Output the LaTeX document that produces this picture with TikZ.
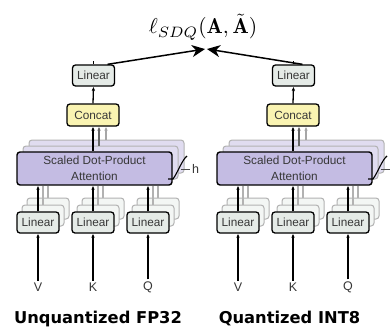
\documentclass[tikz,border=0pt]{standalone}
\usepackage{fontspec}
\setsansfont{Liberation Sans}
\newfontfamily\dejavu{DejaVu Sans}
\usetikzlibrary{arrows.meta}
\definecolor{lingreen}{RGB}{229,235,231}
\definecolor{catyellow}{RGB}{250,244,178}
\definecolor{attpurple}{RGB}{196,188,227}
\definecolor{attshade}{RGB}{224,220,240}
\definecolor{txt}{RGB}{55,55,55}
\tikzset{
  lin/.style={draw=black, line width=1.3pt, rounded corners=3pt, fill=lingreen,
    minimum width=42pt, minimum height=21pt, inner sep=0pt, text=txt,
    font=\sffamily\fontsize{11.8}{13}\selectfont},
  linsh/.style={draw=black!30, line width=1pt, rounded corners=3pt, fill=lingreen!45,
    minimum width=42pt, minimum height=21pt, inner sep=0pt},
  cat/.style={draw=black, line width=1.3pt, rounded corners=3pt, fill=catyellow,
    minimum width=52pt, minimum height=22pt, inner sep=0pt, text=txt,
    font=\sffamily\fontsize{11.8}{13}\selectfont},
  att/.style={draw=black, line width=1.4pt, rounded corners=3pt, fill=attpurple,
    minimum width=155pt, minimum height=33pt, inner sep=0pt, text=txt, align=center,
    font=\sffamily\fontsize{11.8}{15.5}\selectfont},
  attsh/.style={draw=black!30, line width=1pt, rounded corners=3pt, fill=attshade,
    minimum width=155pt, minimum height=33pt, inner sep=0pt},
  lab/.style={text=txt, inner sep=2pt, font=\sffamily\fontsize{12.5}{14}\selectfont},
  arr/.style={-{Latex[length=4pt,width=3.6pt]}, line width=1.3pt, black},
  arrD/.style={-{Latex[length=4pt,width=3.6pt]}, line width=1.2pt, black!60},
  arrL/.style={-{Latex[length=4pt,width=3.6pt]}, line width=1.2pt, black!35},
  gline/.style={line width=1.1pt, black!30},
  bigarr/.style={-{Stealth[length=13pt,width=12pt,inset=4pt]}, line width=1.5pt, black},
}
\newcommand\mhpanel[3]{%
\begin{scope}[xshift=#2pt]
  % attention stack
  \node[attsh] (#1as2) at (106.5,156.5) {};
  \node[attsh] (#1as1) at (100.5,162.5) {};
  \node[att] (#1att) at (94.5,168.5) {Scaled Dot-Product\\Attention};
  % concat and top linear
  \node[cat] (#1cat) at (93,115) {Concat};
  \node[lin] (#1top) at (93.5,75.5) {Linear};
  \coordinate (#1c1) at ([xshift=6pt]#1cat.south);
  \coordinate (#1c2) at ([xshift=13pt]#1cat.south);
  \draw[arrL] (#1c2 |- #1as2.north) -- (#1c2);
  \draw[arrD] (#1c1 |- #1as1.north) -- (#1c1);
  \draw[arr] (#1cat.south |- #1att.north) -- (#1cat.south);
  \draw[arr] (#1cat.north) -- (#1top.south);
  \draw[line width=1.2pt] (#1top.north) -- ++(0,-3);
  % h marker
  \draw[line width=1.1pt] (168,179) -- (173,179) .. controls (178,172) and (182,160) .. (187,156);
  \draw[line width=0.7pt, black!70] (181,169) -- (190,169);
  #3
  % bottom linear stacks
  \foreach \n/\x/\l in {v/38/V,k/93/K,q/148/Q}{
    \node[linsh] (#1\n2) at (\x+10,208.5) {};
    \draw[gline] (#1\n2.north) -- (#1\n2.north |- #1att.south);
    \node[linsh] (#1\n1) at (\x+5,215.5) {};
    \draw[gline] (#1\n1.north) -- (#1\n1.north |- #1att.south);
    \node[lin] (#1\n) at (\x,222.5) {Linear};
    \draw[arr] (#1\n.north) -- (#1\n.north |- #1att.south);
    \node[lab] (#1\n-l) at (\x,287) {\l};
    \draw[arr] (#1\n-l.north) -- (#1\n.south);
  }
\end{scope}}
\begin{document}
\begin{tikzpicture}[x=1pt,y=-1pt]
\useasboundingbox (0,0) rectangle (390,327);
\clip (0,0) rectangle (390,327);
\fill[white] (0,0) rectangle (390,327);
\mhpanel{L}{0}{\node[lab, anchor=west, inner sep=1pt] (Lh) at (191,169) {h};}
\mhpanel{R}{200}{}
\node[scale=2.15] (loss) at (203,27) {$\ell_{SDQ}(\mathbf{A},\tilde{\mathbf{A}})$};
\coordinate (meetL) at (205,49);
\coordinate (meetR) at (207,49);
\draw[bigarr] ([xshift=14pt]Ltop.north) -- (meetL);
\draw[bigarr] ([xshift=9pt]Rtop.north) -- (meetR);
\node[font=\dejavu\bfseries\fontsize{16.3}{18}\selectfont, anchor=base, text=black] (t1) at (98,323.5) {Unquantized FP32};
\node[font=\dejavu\bfseries\fontsize{16.3}{18}\selectfont, anchor=base, text=black] (t2) at (289.5,323.5) {Quantized INT8};
\end{tikzpicture}
\end{document}
